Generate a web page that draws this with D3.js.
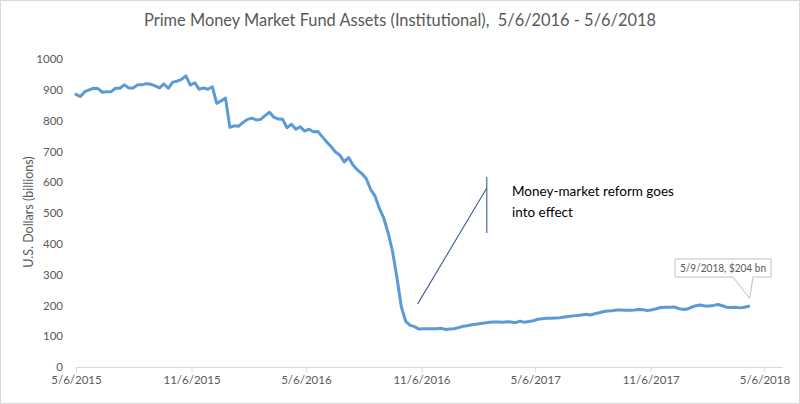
<!DOCTYPE html>
<html><head><meta charset="utf-8">
<script src="https://cdn.jsdelivr.net/npm/d3@7"></script>
<style>body{margin:0;background:#fff}svg{display:block}</style>
</head><body><div id="chart"></div>
<script>
const titleText = "Prime Money Market Fund Assets (Institutional),  5/6/2016 - 5/6/2018";
const yAxisTitle = "U.S. Dollars (billions)";
const startDate = "2015-05-06";
const endDomain = "2018-06-03";
const xTickLabels = ["5/6/2015","11/6/2015","5/6/2016","11/6/2016","5/6/2017","11/6/2017","5/6/2018"];
const yTicks = [0,100,200,300,400,500,600,700,800,900,1000];
// weekly assets, $bn, starting at startDate
const assets = [
885,878,894,900,905,904,892,894,894,905,905,916,906,906,916,916,920,918,913,906,
919,905,925,928,934,945,915,923,902,906,902,910,856,864,873,778,783,782,794,804,
808,802,804,816,827,811,805,804,777,788,772,780,766,772,764,765,748,731,716,698,
688,666,680,656,640,628,612,577,555,515,483,435,375,290,195,148,135,131,123,124,
124,124,124,126,122,123,124,128,132,134,137,139,141,143,145,146,146,145,147,146,
144,149,145,148,150,155,157,158,158,159,160,162,164,166,167,169,171,169,173,176,
180,182,183,185,185,184,184,185,187,186,183,186,189,193,194,194,195,190,187,188,
194,199,201,198,198,200,203,199,194,193,194,192,194,197];
const annotationLines = ["Money-market reform goes","into effect"];
const annoDiag = [{date:"2016-10-31", v:205},{date:"2017-02-18", v:581}];
const annoVert = [{date:"2017-02-18", v:617},{date:"2017-02-18", v:435}];
const calloutText = "5/9/2018, $204 bn";

const W = 800, H = 404;
const parse = d3.timeParse("%Y-%m-%d");
const parseTick = d3.timeParse("%m/%d/%Y");
const start = parse(startDate);
const data = assets.map((v,i)=>({date:d3.timeDay.offset(start, 7*i), v}));

const svg = d3.select("#chart").append("svg").attr("width",W).attr("height",H);
svg.append("rect").attr("x",0.5).attr("y",0.5).attr("width",W-1).attr("height",H-1)
  .attr("fill","#fff").attr("stroke","#d9d9d9");

const x = d3.scaleTime().domain([start, parse(endDomain)]).range([76, 782]);
const y = d3.scaleLinear().domain([0,1000]).range([367, 59]);

const font = "Lato, 'Open Sans', sans-serif";

svg.append("text").attr("x",400).attr("y",26).attr("text-anchor","middle")
  .attr("font-family",font).attr("font-size",16.5).attr("fill","#595959")
  .attr("xml:space","preserve").style("white-space","pre")
  .attr("textLength",512).attr("lengthAdjust","spacingAndGlyphs")
  .text(titleText);

// y axis (labels only)
const yAxis = d3.axisLeft(y).tickValues(yTicks).tickFormat(d3.format("d")).tickSize(0).tickPadding(0);
const gy = svg.append("g").attr("transform","translate(63,0)").call(yAxis);
gy.select(".domain").remove();
gy.selectAll("text").attr("font-family",font).attr("font-size",11.5).attr("fill","#595959");

svg.append("text").attr("transform","translate(33,212) rotate(-90)")
  .attr("text-anchor","middle").attr("font-family",font).attr("font-size",12.5)
  .attr("fill","#595959").text(yAxisTitle);

// x axis
const xTicks = xTickLabels.map(s=>parseTick(s));
const fmt = d=>`${d.getMonth()+1}/${d.getDate()}/${d.getFullYear()}`;
const xAxis = d3.axisBottom(x).tickValues(xTicks).tickFormat(fmt).tickSize(5).tickSizeOuter(0).tickPadding(4);
const gx = svg.append("g").attr("transform",`translate(0,${y(0)})`).call(xAxis);
gx.select(".domain").attr("stroke","#d9d9d9");
gx.selectAll(".tick line").attr("stroke","#d9d9d9");
gx.selectAll("text").attr("font-family",font).attr("font-size",11.5).attr("fill","#595959");

// line
const line = d3.line().x(d=>x(d.date)).y(d=>y(d.v)).curve(d3.curveLinear);
svg.append("path").datum(data).attr("d",line).attr("fill","none")
  .attr("stroke","#5B9BD5").attr("stroke-width",3).attr("stroke-linejoin","round").attr("stroke-linecap","round");

// annotation
svg.append("line")
  .attr("x1",x(parse(annoDiag[0].date))).attr("y1",y(annoDiag[0].v))
  .attr("x2",x(parse(annoDiag[1].date))).attr("y2",y(annoDiag[1].v))
  .attr("stroke","#3B5C8F").attr("stroke-width",1.1);
svg.append("line")
  .attr("x1",x(parse(annoVert[0].date))).attr("y1",y(annoVert[0].v))
  .attr("x2",x(parse(annoVert[1].date))).attr("y2",y(annoVert[1].v))
  .attr("stroke","#3B5C8F").attr("stroke-width",1.1);
const at = svg.append("text").attr("font-family",font).attr("font-size",13.5).attr("fill","#000");
annotationLines.forEach((t,i)=>at.append("tspan").attr("x",512).attr("y",196+i*21).text(t));

// callout
const last = data[data.length-1];
const tx = x(last.date)+1, ty = y(last.v)-8;
const bx0 = 675, bx1 = 771, by0 = 259, by1 = 277;
svg.append("path")
  .attr("d",`M${bx0},${by0}H${bx1}V${by1}H753L${tx},${ty}L733,${by1}H${bx0}Z`)
  .attr("fill","#fff").attr("stroke","#bfbfbf").attr("stroke-width",1);
svg.append("text").attr("x",(bx0+bx1)/2).attr("y",272).attr("text-anchor","middle")
  .attr("font-family",font).attr("font-size",11.5).attr("fill","#595959")
  .attr("textLength",86).attr("lengthAdjust","spacingAndGlyphs").text(calloutText);
</script></body></html>
